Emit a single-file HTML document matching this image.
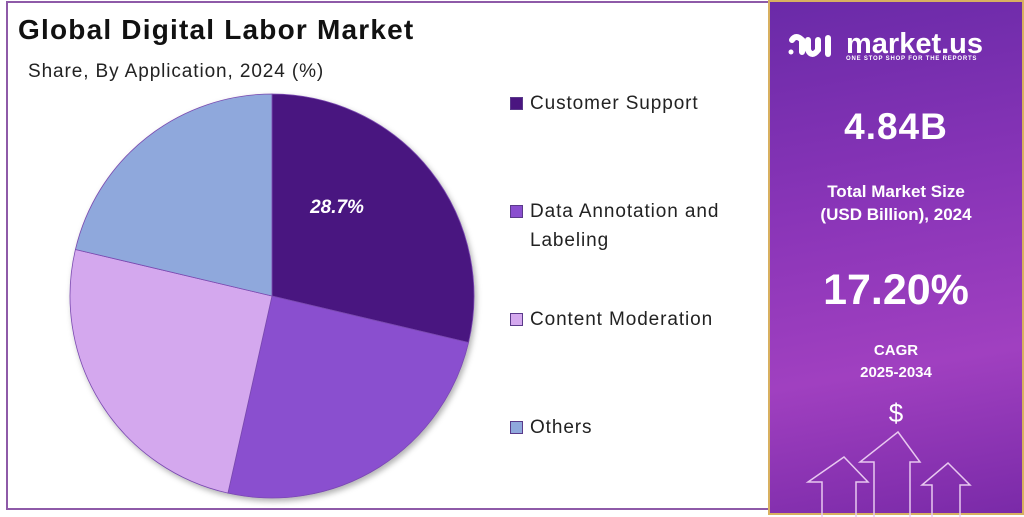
<!DOCTYPE html>
<html><head><meta charset="utf-8"><style>
body{margin:0;width:1024px;height:515px;overflow:hidden;background:#fff;font-family:"Liberation Sans",sans-serif;position:relative}
.frame{position:absolute;left:6px;top:1px;width:762px;height:509px;border:2px solid #8e5aa8;border-right:none;box-sizing:border-box}
.title{position:absolute;left:18px;top:14px;font-size:28px;font-weight:bold;color:#111;letter-spacing:1.2px}
.sub{position:absolute;left:28px;top:61px;font-size:19px;color:#222;letter-spacing:0.9px}
.leg{position:absolute;left:510px;font-size:19px;color:#222;line-height:29px;letter-spacing:0.9px}
.leg i{position:absolute;left:0;top:8px;width:13px;height:13px;box-sizing:border-box;border:1px solid #5a3a8a}
.leg span{margin-left:20px;display:block}
.panel{position:absolute;left:768px;top:0;width:256px;height:515px;background:linear-gradient(170deg,#6a2aa8 0%,#8a35b8 40%,#a040c0 70%,#7a2aa8 100%);border:2px solid #d8b060;box-sizing:border-box;color:#fff;text-align:center;font-weight:bold}
.panel div{position:absolute;left:0;width:100%}
</style></head><body>
<div class="frame"></div>
<div class="title">Global Digital Labor Market</div>
<div class="sub">Share, By Application, 2024 (%)</div>
<svg id="pie" width="768" height="515" style="position:absolute;left:0;top:0">
<defs><filter id="sh" x="-10%" y="-10%" width="130%" height="130%"><feDropShadow dx="2" dy="3" stdDeviation="3" flood-color="#000" flood-opacity="0.3"/></filter></defs>
<g id="slices" filter="url(#sh)"></g>
<text x="337" y="213" fill="#fff" font-size="19" font-weight="bold" font-style="italic" text-anchor="middle" font-family="Liberation Sans">28.7%</text>
</svg>
<div class="leg" style="top:89px"><i style="background:#4a1580"></i><span>Customer Support</span></div>
<div class="leg" style="top:197px"><i style="background:#8a4fcf"></i><span>Data Annotation and<br>Labeling</span></div>
<div class="leg" style="top:305px"><i style="background:#d4a8ee"></i><span>Content Moderation</span></div>
<div class="leg" style="top:413px"><i style="background:#8fa8dc"></i><span>Others</span></div>
<div class="panel">
<svg style="position:absolute;left:16px;top:28px" width="54" height="32" fill="none" stroke="#fff" stroke-width="6" stroke-linecap="round">
<circle cx="5" cy="22" r="2.5" fill="#fff" stroke="none"/><path d="M6 10Q10 4 16 10V22"/><path d="M22 10V20Q26 28 32 20V10"/><path d="M42 8V24"/>
</svg>
<div style="top:26px;left:76px;width:auto;font-size:29px;text-align:left">market.us</div>
<div style="top:54px;left:76px;width:150px;font-size:6px;letter-spacing:0.8px;text-align:left">ONE STOP SHOP FOR THE REPORTS</div>
<div style="top:104px;font-size:37px;letter-spacing:1px">4.84B</div>
<div style="top:178px;font-size:17px;line-height:23px">Total Market Size<br>(USD Billion), 2024</div>
<div style="top:264px;font-size:43px">17.20%</div>
<div style="top:338px;font-size:15px;line-height:22px">CAGR<br>2025-2034</div>
<div style="top:396px;font-size:26px;font-weight:normal">$</div>
<svg style="position:absolute;left:0;top:425px" width="256" height="90" fill="none" stroke="#e8c8f0" stroke-width="1.5">
<path d="M52 90V55H38L74 30L98 55H86V90"/><path d="M104 90V35H90L128 5L150 35H140V90"/><path d="M162 90V58H152L178 36L200 58H190V90"/>
</svg>
</div>
<script>
const categories=["Customer Support","Data Annotation and Labeling","Content Moderation","Others"];
const shares=[28.7,24.8,25.2,21.3];
const colors=["#4a1580","#8a4fcf","#d4a8ee","#8fa8dc"];
const cx=272,cy=296,r=202;
const g=document.getElementById('slices');
let a=0;const tot=shares.reduce((s,v)=>s+v,0);
shares.forEach((v,i)=>{
 const a0=a/tot*2*Math.PI;a+=v;const a1=a/tot*2*Math.PI;
 const x0=cx+r*Math.sin(a0),y0=cy-r*Math.cos(a0),x1=cx+r*Math.sin(a1),y1=cy-r*Math.cos(a1);
 const p=document.createElementNS('http://www.w3.org/2000/svg','path');
 p.setAttribute('d',`M${cx},${cy}L${x0},${y0}A${r},${r} 0 ${a1-a0>Math.PI?1:0} 1 ${x1},${y1}Z`);
 p.setAttribute('fill',colors[i]);p.setAttribute('stroke','#7a4ab0');p.setAttribute('stroke-width','0.8');
 
 
 g.appendChild(p);
});
</script>
</body></html>
